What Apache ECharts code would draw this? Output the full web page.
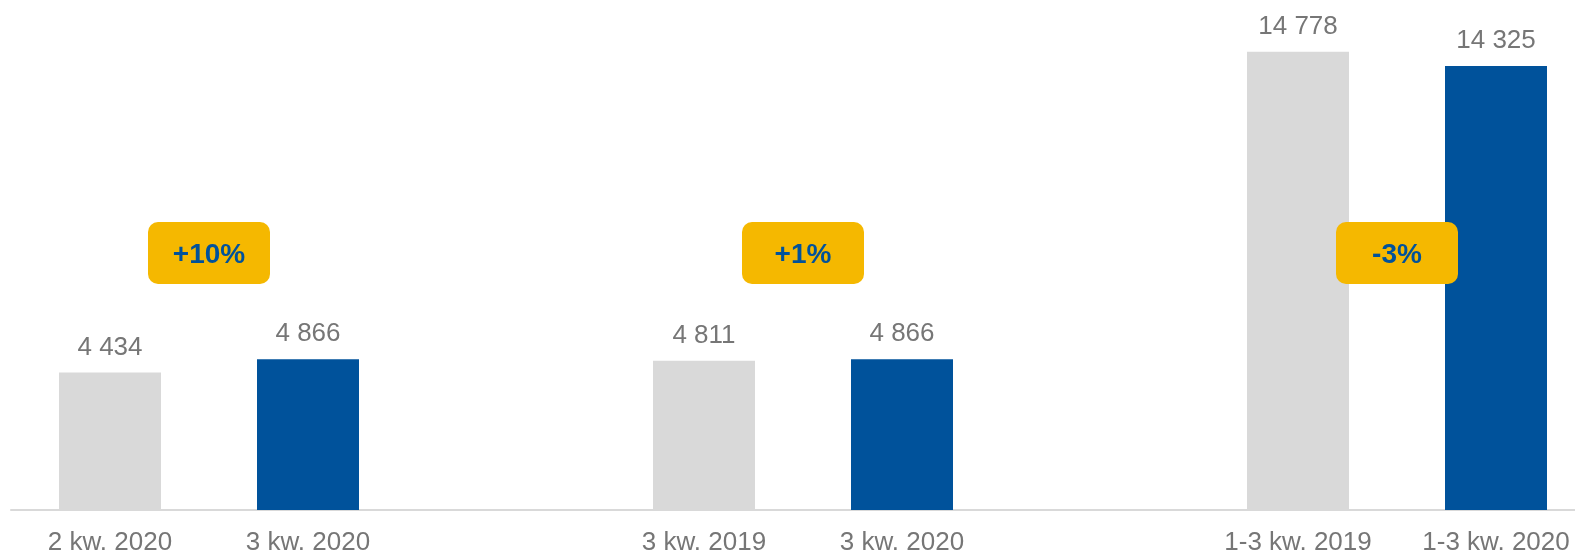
<!DOCTYPE html>
<html>
<head>
<meta charset="utf-8">
<script src="https://cdn.jsdelivr.net/npm/echarts@6/dist/echarts.min.js"></script>
<style>
  html, body { margin: 0; padding: 0; background: #fff; }
  #main { width: 1575px; height: 553px; }
</style>
</head>
<body>
<div id="main"></div>
<script>
"use strict";

var categories = ["2 kw. 2020", "3 kw. 2020", "", "3 kw. 2019", "3 kw. 2020", "", "1-3 kw. 2019", "1-3 kw. 2020"];
var previousValues = [4434, "-", "-", 4811, "-", "-", 14778, "-"];
var currentValues = ["-", 4866, "-", "-", 4866, "-", "-", 14325];
var changeLabels = ["+10%", "+1%", "-3%"];
var changePairs = [[0, 1], [3, 4], [6, 7]];

var chartDom = document.getElementById("main");
var myChart = echarts.init(chartDom);

var labelStyle = {
  show: true,
  position: "top",
  distance: 12,
  color: "#767676",
  fontSize: 26,
  fontFamily: "Liberation Sans, Arial, sans-serif",
  formatter: function (p) {
    return String(p.value).replace(/\B(?=(\d{3})+(?!\d))/g, " ");
  },
};

var option = {
  animation: false,
  grid: { left: 11, top: 0, width: 1584, height: 510, outerBoundsMode: "none", containLabel: false },
  xAxis: {
    type: "category",
    data: categories,
    axisLine: { lineStyle: { color: "#D9D9D9", width: 2 } },
    axisTick: { show: false },
    axisLabel: {
      color: "#767676",
      fontSize: 26,
      fontFamily: "Liberation Sans, Arial, sans-serif",
      margin: 20,
      interval: 0,
    },
  },
  yAxis: {
    type: "value",
    min: 0,
    max: 16450,
    show: false,
    splitLine: { show: false },
  },
  series: [
    {
      name: "previous",
      type: "bar",
      data: previousValues,
      barWidth: 102,
      barGap: "-100%",
      itemStyle: { color: "#D9D9D9" },
      label: labelStyle,
    },
    {
      name: "current",
      type: "bar",
      data: currentValues,
      barWidth: 102,
      itemStyle: { color: "#00529B" },
      label: labelStyle,
    },
  ],
};

option && myChart.setOption(option);

// yellow change badges, centred between each pair of bars
var badges = changeLabels.map(function (txt, i) {
  var a = myChart.convertToPixel({ xAxisIndex: 0 }, changePairs[i][0]);
  var b = myChart.convertToPixel({ xAxisIndex: 0 }, changePairs[i][1]);
  return {
    type: "group",
    x: (a + b) / 2,
    y: 253,
    z: 100,
    children: [
      {
        type: "rect",
        z: 100,
        shape: { x: -61, y: -31, width: 122, height: 62, r: 10 },
        style: { fill: "#F5B800" },
      },
      {
        type: "text",
        z: 101,
        style: {
          text: txt,
          x: 0,
          y: 2,
          align: "center",
          verticalAlign: "middle",
          fill: "#00529B",
          font: "bold 28px 'Liberation Sans', Arial, sans-serif",
        },
      },
    ],
  };
});

myChart.setOption({ graphic: badges });
</script>
</body>
</html>
